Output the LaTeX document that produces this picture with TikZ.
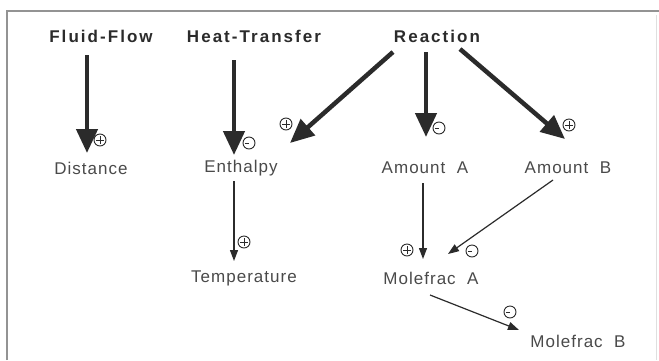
\documentclass[tikz,border=0pt]{standalone}
\usepackage{fontspec}
\setmainfont{Liberation Sans}
\newfontfamily\headfont[LetterSpace=12]{Liberation Sans}
\newfontfamily\varfont[LetterSpace=6,WordSpace=2]{Liberation Sans}
\usetikzlibrary{arrows.meta,calc}
\definecolor{ink}{HTML}{2B2B2B}
\definecolor{txt}{HTML}{4A4A4A}
\begin{document}
\begin{tikzpicture}[x=1pt,y=-1pt,
  proc/.style={inner sep=0pt,text=ink,font=\headfont\fontsize{17}{17}\selectfont\bfseries},
  qty/.style={inner sep=0pt,text=txt,font=\varfont\fontsize{17}{17}\selectfont},
  influence/.style={draw=ink,line width=4.5pt,-{Triangle[length=24pt,width=21pt]}},
  propag/.style={draw=ink,line width=1.2pt,-{Triangle[length=11pt,width=8pt]}},
  sgn/.style={circle,draw=ink,line width=0.9pt,minimum size=12pt,inner sep=0pt},
  plus/.style={sgn,path picture={\draw[ink,line width=0.8pt]
      ([xshift=2pt]path picture bounding box.west) -- ([xshift=-2pt]path picture bounding box.east)
      ([yshift=-2pt]path picture bounding box.north) -- ([yshift=2pt]path picture bounding box.south);}},
  minus/.style={sgn,path picture={\draw[ink,line width=0.8pt]
      ([xshift=2pt]path picture bounding box.west) -- (path picture bounding box.center);}}]
\useasboundingbox (0,0) rectangle (659,360);
\fill[white] (0,0) rectangle (659,360);
% frame
\draw[gray!85,line width=1.3pt] (7,360) -- (7,11) -- (659,11);
\draw[gray!25,line width=0.8pt] (656,15) -- (656,360);

% processes
\node[proc] (ff) at (101,36) {Fluid-Flow};
\node[proc] (ht) at (254,36) {Heat-Transfer};
\node[proc] (rx) at (437,36) {Reaction};

% quantities
\node[qty] (dist) at (91,168) {Distance};
\node[qty] (enth) at (241,168) {Enthalpy};
\node[qty] (amtA) at (425,168) {Amount A};
\node[qty] (amtB) at (568,168) {Amount B};
\node[qty] (temp) at (244,278) {Temperature};
\node[qty] (mfA) at (431,278) {Molefrac A};
\node[qty] (mfB) at (578,341) {Molefrac B};

% direct influences
\draw[influence] ($(ff)+(-14,19)$) -- ($(dist)+(-4,-15)$);
\draw[influence] ($(ht)+(-20,24)$) -- ($(enth)+(-7,-13)$);
\draw[influence] ($(rx)+(-44,16)$) -- ($(enth)+(49,-25)$);
\draw[influence] ($(rx)+(-11,16)$) -- ($(amtA)+(1,-31)$);
\draw[influence] ($(rx)+(23,13)$) -- ($(amtB)+(-3,-29)$);

% qualitative proportionalities
\draw[propag] ($(enth)+(-7,13)$) -- ($(temp)+(-10,-17)$);
\draw[propag] ($(amtA)+(-2,15)$) -- ($(mfA)+(-8,-19)$);
\draw[propag] ($(amtB)+(-15,12)$) -- ($(mfA)+(17,-24)$);
\draw[propag] ($(mfA)+(-1,17)$) -- ($(mfB)+(-59,-11)$);

% signs
\node[plus]  (s1) at (100,140) {};
\node[minus] (s2) at (249,143) {};
\node[plus]  (s3) at (286,124) {};
\node[minus] (s4) at (439,128) {};
\node[plus]  (s5) at (569,125) {};
\node[plus]  (s6) at (244,242) {};
\node[plus]  (s7) at (407,250) {};
\node[minus] (s8) at (472,251) {};
\node[minus] (s9) at (510,312) {};
\end{tikzpicture}
\end{document}
